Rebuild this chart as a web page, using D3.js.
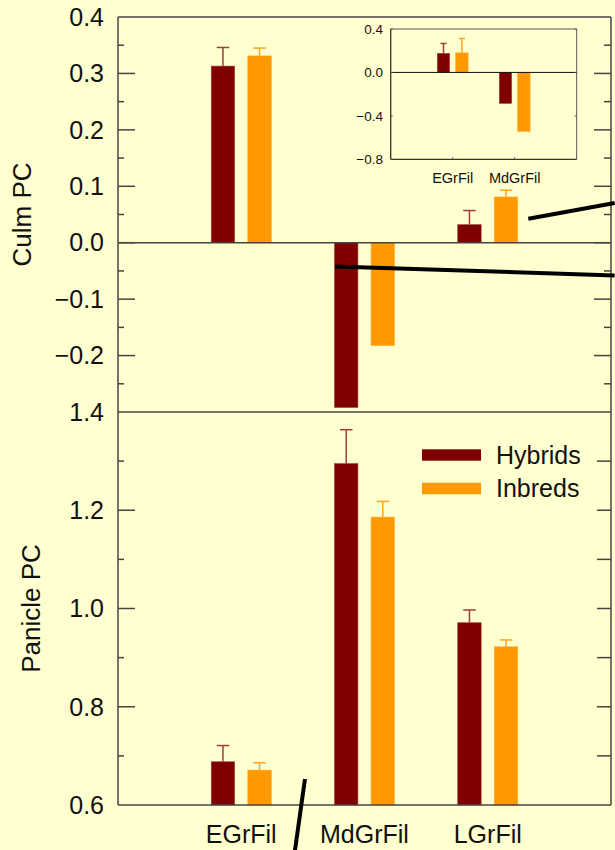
<!DOCTYPE html>
<html>
<head>
<meta charset="utf-8">
<script src="https://cdn.jsdelivr.net/npm/d3@7"></script>
<style>
  html, body { margin: 0; padding: 0; background: #ffffd0; }
  svg { display: block; font-family: "Liberation Sans", Arial, sans-serif; }
</style>
</head>
<body>
<div id="chart"></div>
<script>
(function() {
  // ---- data ----
  const categories = ["EGrFil", "MdGrFil", "LGrFil"];
  const series = ["Hybrids", "Inbreds"];

  const culmHybrids = [0.313, -0.292, 0.032];
  const culmHybridsErr = [0.033, null, 0.025];
  const culmInbreds = [0.331, -0.182, 0.081];
  const culmInbredsErr = [0.014, null, 0.012];

  const panicleHybrids = [0.688, 1.295, 0.971];
  const panicleHybridsErr = [0.033, 0.069, 0.026];
  const panicleInbreds = [0.671, 1.186, 0.922];
  const panicleInbredsErr = [0.015, 0.032, 0.014];

  const insetCategories = ["EGrFil", "MdGrFil"];
  const insetHybrids = [0.175, -0.285];
  const insetHybridsErr = [0.092, null];
  const insetInbreds = [0.18, -0.543];
  const insetInbredsErr = [0.133, null];

  const culmTicks = [0.4, 0.3, 0.2, 0.1, 0.0, -0.1, -0.2];
  const panicleTicks = [1.4, 1.2, 1.0, 0.8, 0.6];
  const insetTicks = [0.4, 0.0, -0.4, -0.8];

  // callout lines, in [category position, value]
  const calloutTop = [[[1.761, -0.042], [4.03, -0.058]], [[3.329, 0.0425], [4.03, 0.0703]]];
  const calloutBottom = [[[1.517, 0.653], [1.436, 0.508]]];

  const colors = { Hybrids: "#7f0000", Inbreds: "#ff9900" };
  const errColors = { Hybrids: "#a03c3c", Inbreds: "#ffa626" };
  const axisColor = "#444";

  const width = 615, height = 850;
  const svg = d3.select("#chart").append("svg")
    .attr("width", width).attr("height", height);

  svg.append("rect").attr("width", width).attr("height", height).attr("fill", "#ffffd0");

  const x = d3.scaleLinear().domain([0, 4]).range([118, 611]);
  const yTop = d3.scaleLinear().domain([-0.3, 0.4]).range([412, 17]);
  const yBot = d3.scaleLinear().domain([0.6, 1.4]).range([805, 412]);

  const inner = d3.scaleBand().domain(series).range([-30, 30]).paddingInner(0.36);

  function rows(h, hErr, i, iErr) {
    const out = [];
    h.forEach((v, k) => {
      out.push({ cat: k + 1, s: "Hybrids", v: v, e: hErr[k] });
      out.push({ cat: k + 1, s: "Inbreds", v: i[k], e: iErr[k] });
    });
    return out;
  }

  function drawBars(g, data, xs, ys, band, base, capW) {
    data.forEach(d => {
      const x0 = xs(d.cat) + band(d.s);
      const bw = band.bandwidth();
      const y0 = ys(base), y1 = ys(d.v);
      if (d.e != null) {
        const cx = x0 + bw / 2;
        g.append("line").attr("x1", cx).attr("x2", cx)
          .attr("y1", y1).attr("y2", ys(d.v + d.e))
          .attr("stroke", errColors[d.s]).attr("stroke-width", 1.5);
        g.append("line").attr("x1", cx - capW / 2).attr("x2", cx + capW / 2)
          .attr("y1", ys(d.v + d.e)).attr("y2", ys(d.v + d.e))
          .attr("stroke", errColors[d.s]).attr("stroke-width", 1.5);
      }
      g.append("rect")
        .attr("x", x0).attr("width", bw)
        .attr("y", Math.min(y0, y1)).attr("height", Math.abs(y1 - y0))
        .attr("fill", colors[d.s])
        .attr("stroke", errColors[d.s]).attr("stroke-width", 0.6);
    });
  }

  // ---- top panel (Culm) ----
  const top = svg.append("g");
  drawBars(top, rows(culmHybrids, culmHybridsErr, culmInbreds, culmInbredsErr), x, yTop, inner, 0, 12.5);

  // ---- bottom panel (Panicle) ----
  const bot = svg.append("g");
  drawBars(bot, rows(panicleHybrids, panicleHybridsErr, panicleInbreds, panicleInbredsErr), x, yBot, inner, 0.6, 12.5);

  // frame lines
  const frame = svg.append("g").attr("stroke", axisColor).attr("stroke-width", 1.5);
  frame.append("line").attr("x1", x(0)).attr("x2", x(0)).attr("y1", yTop(0.4)).attr("y2", yBot(0.6));
  frame.append("line").attr("x1", x(4)).attr("x2", x(4)).attr("y1", yTop(0.4)).attr("y2", yBot(0.6));
  frame.append("line").attr("x1", x(0)).attr("x2", x(4)).attr("y1", yTop(0.4)).attr("y2", yTop(0.4));
  frame.append("line").attr("x1", x(0)).attr("x2", x(4)).attr("y1", yTop(-0.3)).attr("y2", yTop(-0.3));
  frame.append("line").attr("x1", x(0)).attr("x2", x(4)).attr("y1", yBot(0.6)).attr("y2", yBot(0.6));
  frame.append("line").attr("x1", x(0)).attr("x2", x(4)).attr("y1", yTop(0)).attr("y2", yTop(0));

  // ticks: left (major 17 / minor 6), right inward
  const ticksTopAll = d3.range(-25, 40, 5).map(v => v / 100);
  ticksTopAll.forEach(v => {
    const major = Math.abs(Math.round(v * 100) % 10) === 0;
    frame.append("line").attr("x1", x(0)).attr("x2", x(0) + (major ? 17 : 6))
      .attr("y1", yTop(v)).attr("y2", yTop(v));
    frame.append("line").attr("x1", x(4)).attr("x2", x(4) - (major ? 17 : 7))
      .attr("y1", yTop(v)).attr("y2", yTop(v));
  });
  const ticksBotAll = d3.range(7, 14).map(v => v / 10);
  ticksBotAll.forEach(v => {
    const major = Math.round(v * 10) % 2 === 0;
    frame.append("line").attr("x1", x(0)).attr("x2", x(0) + (major ? 17 : 6))
      .attr("y1", yBot(v)).attr("y2", yBot(v));
    frame.append("line").attr("x1", x(4)).attr("x2", x(4) - 14)
      .attr("y1", yBot(v)).attr("y2", yBot(v));
  });

  // tick labels
  const labels = svg.append("g").attr("font-size", 25).attr("fill", "#111").attr("text-anchor", "end");
  culmTicks.forEach(v => {
    labels.append("text").attr("x", 104).attr("y", yTop(v)).attr("dy", "0.35em").text(d3.format(".1f")(v));
  });
  panicleTicks.forEach(v => {
    labels.append("text").attr("x", 104).attr("y", yBot(v)).attr("dy", "0.35em").text(d3.format(".1f")(v));
  });

  categories.forEach((c, k) => {
    svg.append("text").attr("x", x(k + 1)).attr("y", 843)
      .attr("text-anchor", "middle").attr("font-size", 25).attr("fill", "#111").text(c);
  });

  svg.append("text").attr("transform", `translate(31,${(yTop(0.4) + yTop(-0.3)) / 2}) rotate(-90)`)
    .attr("text-anchor", "middle").attr("font-size", 26).attr("fill", "#111").text("Culm PC");
  svg.append("text").attr("transform", `translate(40,${(yBot(1.4) + yBot(0.6)) / 2}) rotate(-90)`)
    .attr("text-anchor", "middle").attr("font-size", 26).attr("fill", "#111").text("Panicle PC");

  // legend
  const legend = svg.append("g");
  series.forEach((s, k) => {
    const ly = 455 + k * 33.5;
    legend.append("rect").attr("x", 422).attr("y", ly - 5.7).attr("width", 59).attr("height", 11.4)
      .attr("fill", colors[s]);
    legend.append("text").attr("x", 496).attr("y", ly).attr("dy", "0.35em")
      .attr("font-size", 25).attr("fill", "#111").text(s);
  });

  // ---- inset ----
  const xi = d3.scaleLinear().domain([0, 3]).range([390.7, 576.7]);
  const yi = d3.scaleLinear().domain([-0.8, 0.4]).range([159.3, 29]);
  const innerI = d3.scaleBand().domain(series).range([-15.4, 15.4]).paddingInner(0.33);
  const inset = svg.append("g");
  drawBars(inset, rows(insetHybrids, insetHybridsErr, insetInbreds, insetInbredsErr), xi, yi, innerI, 0, 6);

  const ifr = inset.append("g").attr("stroke", "#555").attr("stroke-width", 1);
  ifr.append("line").attr("x1", xi(0)).attr("x2", xi(3)).attr("y1", yi(0.4)).attr("y2", yi(0.4));
  ifr.append("line").attr("x1", xi(3)).attr("x2", xi(3)).attr("y1", yi(0.4)).attr("y2", yi(-0.8));
  ifr.append("line").attr("x1", xi(0)).attr("x2", xi(3)).attr("y1", yi(-0.8)).attr("y2", yi(-0.8))
    .attr("stroke", "#333").attr("stroke-width", 1.3);
  ifr.append("line").attr("x1", xi(0)).attr("x2", xi(0)).attr("y1", yi(0.4)).attr("y2", yi(-0.8))
    .attr("stroke", "#333").attr("stroke-width", 1.3);
  ifr.append("line").attr("x1", xi(0)).attr("x2", xi(3)).attr("y1", yi(0)).attr("y2", yi(0))
    .attr("stroke", "#111").attr("stroke-width", 1);
  insetTicks.forEach(v => {
    ifr.append("line").attr("x1", xi(0)).attr("x2", xi(0) + 2).attr("y1", yi(v)).attr("y2", yi(v));
    ifr.append("line").attr("x1", xi(3)).attr("x2", xi(3) - 2).attr("y1", yi(v)).attr("y2", yi(v));
    inset.append("text").attr("x", 383).attr("y", yi(v)).attr("dy", "0.35em")
      .attr("text-anchor", "end").attr("font-size", 13.5).attr("fill", "#111").text(d3.format(".1f")(v));
  });
  insetCategories.forEach((c, k) => {
    ifr.append("line").attr("x1", xi(k + 1)).attr("x2", xi(k + 1)).attr("y1", yi(-0.8)).attr("y2", yi(-0.8) - 2);
    inset.append("text").attr("x", xi(k + 1)).attr("y", 182.5)
      .attr("text-anchor", "middle").attr("font-size", 14.5).attr("fill", "#111").text(c);
  });

  // ---- callout lines ----
  const lineTop = d3.line().x(d => x(d[0])).y(d => yTop(d[1]));
  const lineBot = d3.line().x(d => x(d[0])).y(d => yBot(d[1]));
  calloutTop.forEach(p => svg.append("path").attr("d", lineTop(p))
    .attr("stroke", "#000").attr("stroke-width", 4).attr("fill", "none"));
  calloutBottom.forEach(p => svg.append("path").attr("d", lineBot(p))
    .attr("stroke", "#000").attr("stroke-width", 4).attr("fill", "none"));
})();
</script>
</body>
</html>
